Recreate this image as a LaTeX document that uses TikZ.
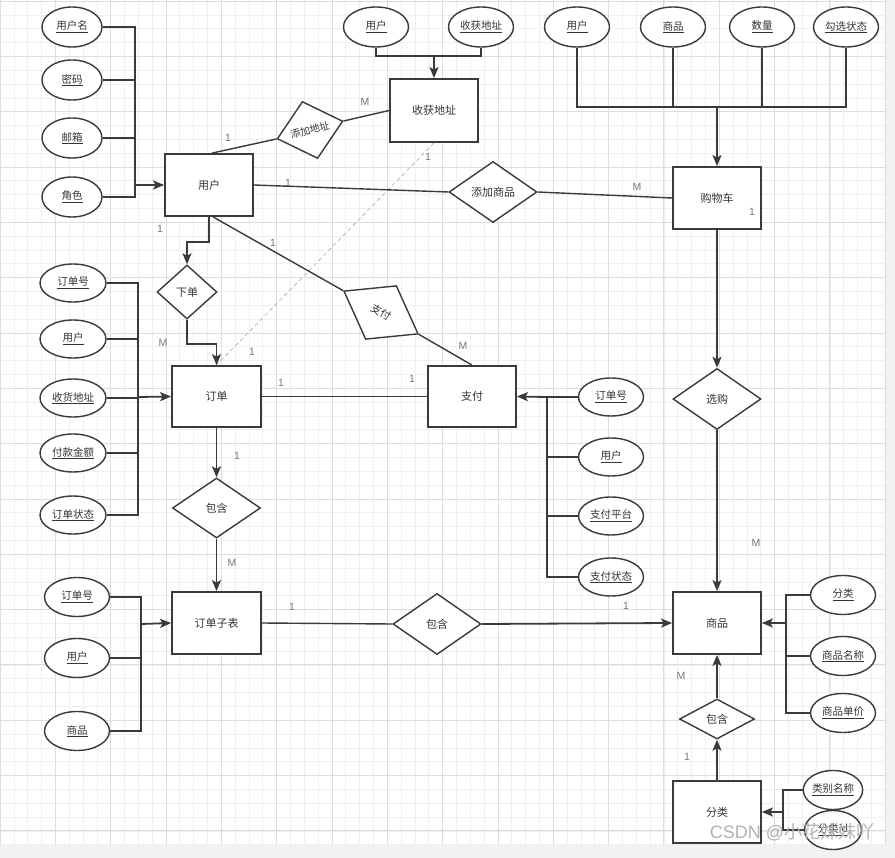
\documentclass[tikz,border=0pt]{standalone}
\usepackage{fontspec}
\setmainfont{Noto Sans CJK SC}
\newfontfamily\lblfont{Liberation Sans}
\usetikzlibrary{shapes.geometric,arrows.meta}
\definecolor{ln}{HTML}{3A3A3A}
\definecolor{tx}{HTML}{333333}
\definecolor{lb}{HTML}{777777}
\definecolor{gmin}{HTML}{EFEFEF}
\definecolor{gmaj}{HTML}{DDDDDD}
\definecolor{strip}{HTML}{F2F2F2}
\tikzset{
  ent/.style={draw=ln,line width=1.8pt,fill=white,minimum width=88pt,minimum height=62pt,inner sep=0pt,text=tx,font=\fontsize{11}{13}\selectfont},
  attr/.style={ellipse,draw=ln,line width=1.4pt,fill=white,minimum width=65pt,minimum height=39pt,inner sep=0pt,text=tx,font=\fontsize{10.5}{12}\selectfont},
  rel/.style={diamond,draw=ln,line width=1.4pt,fill=white,minimum width=88pt,minimum height=61pt,inner sep=0pt,text=tx,font=\fontsize{11}{13}\selectfont},
  conn/.style={draw=ln,line width=1.4pt},
  arr/.style={draw=ln,line width=1.8pt,-{Stealth[length=11pt,width=9pt,inset=2.5pt]}},
  card/.style={text=lb,font=\lblfont\fontsize{10.5}{12}\selectfont,inner sep=0pt},
  gminor/.style={draw=gmin,line width=0.6pt},
  gmajor/.style={draw=gmaj,line width=0.7pt}
}
\begin{document}
\begin{tikzpicture}[x=1pt,y=-1pt]
\useasboundingbox (0,0) rectangle (895,858);
\fill[white] (0,0) rectangle (895,858);
\fill[strip] (885,0) rectangle (895,858);
\fill[strip] (0,845) rectangle (885,858);
% grid
\foreach \i in {0,...,64} \draw[gminor] (\i*13.83,0) -- (\i*13.83,845);
\foreach \j in {0,...,61} \draw[gminor] (0,1+\j*13.83) -- (885,1+\j*13.83);
\foreach \i in {0,...,16} \draw[gmajor] (\i*55.32,0) -- (\i*55.32,845);
\foreach \j in {0,...,15} \draw[gmajor] (0,1+\j*55.32) -- (885,1+\j*55.32);

% ---------- nodes ----------
% user
\node[attr,minimum width=60pt,minimum height=40pt] (ua1) at (72,27) {\underline{用户名}};
\node[attr,minimum width=60pt,minimum height=40pt] (ua2) at (72,80) {\underline{密码}};
\node[attr,minimum width=60pt,minimum height=40pt] (ua3) at (72,138) {\underline{邮箱}};
\node[attr,minimum width=60pt,minimum height=40pt] (ua4) at (72,197) {\underline{角色}};
\node[ent] (user) at (209,185) {用户};
\node[rel,rotate=15,minimum width=68pt,minimum height=59pt,font=\fontsize{10}{12}\selectfont] (addaddr) at (310,130) {添加地址};
\node[ent,minimum height=63pt] (addr) at (434,110.5) {收获地址};
\node[attr,minimum height=40pt] (aa1) at (376,27) {\underline{用户}};
\node[attr,minimum height=40pt] (aa2) at (481,27) {\underline{收获地址}};
\node[rel] (addgoods) at (493,192) {添加商品};
\node[ent] (cart) at (717,198) {购物车};
\node[attr,minimum height=40pt] (ca1) at (577,27) {\underline{用户}};
\node[attr,minimum height=40pt] (ca2) at (673,27) {\underline{商品}};
\node[attr,minimum height=40pt] (ca3) at (762,27) {\underline{数量}};
\node[attr,minimum height=40pt] (ca4) at (846,27) {\underline{勾选状态}};
\node[rel] (choose) at (717,399) {选购};
\node[ent] (goods) at (717,623) {商品};
\node[attr] (ga1) at (843,595) {\underline{分类}};
\node[attr] (ga2) at (843,656) {\underline{商品名称}};
\node[attr] (ga3) at (843,713) {\underline{商品单价}};
\node[rel,minimum width=75pt,minimum height=40pt] (contain3) at (717,719) {包含};
\node[ent] (cat) at (717,812) {分类};
\node[attr,minimum width=57pt] (cta1) at (833,790) {\underline{类别名称}};
\node[attr,minimum width=57pt] (cta2) at (833,830) {\underline{分类id}};
% order
\node[rel,minimum width=60pt,minimum height=54pt] (xiadan) at (187,292) {下单};
\node[ent,minimum width=89pt,minimum height=61pt] (order) at (216.5,396.5) {订单};
\node[attr,minimum width=66pt,minimum height=38pt] (oa1) at (73,283) {\underline{订单号}};
\node[attr,minimum width=66pt,minimum height=38pt] (oa2) at (73,339) {\underline{用户}};
\node[attr,minimum width=66pt,minimum height=38pt] (oa3) at (73,398) {\underline{收货地址}};
\node[attr,minimum width=66pt,minimum height=38pt] (oa4) at (73,453) {\underline{付款金额}};
\node[attr,minimum width=66pt,minimum height=38pt] (oa5) at (73,515) {\underline{订单状态}};
\node[rel,rotate=-30,minimum width=86pt,minimum height=62pt,font=\fontsize{10.5}{12}\selectfont] (pay) at (381,312.5) {支付};
\node[ent,minimum width=88pt,minimum height=61pt] (payment) at (472,396.5) {支付};
\node[attr,minimum height=38pt] (pa1) at (611,397) {\underline{订单号}};
\node[attr,minimum height=38pt] (pa2) at (611,457) {\underline{用户}};
\node[attr,minimum height=38pt] (pa3) at (611,516) {\underline{支付平台}};
\node[attr,minimum height=38pt] (pa4) at (611,577) {\underline{支付状态}};
\node[rel,minimum height=60pt] (contain1) at (216.5,508) {包含};
\node[ent,minimum width=89pt] (sub) at (216.5,623) {订单子表};
\node[attr] (sa1) at (77,597) {\underline{订单号}};
\node[attr] (sa2) at (77,658) {\underline{用户}};
\node[attr] (sa3) at (77,731) {\underline{商品}};
\node[rel] (contain2) at (437,624) {包含};

% ---------- bus coordinates ----------
\coordinate (ub) at (135,185);
\coordinate (ab) at (434,56);
\coordinate (cb) at (717,107);
\coordinate (gb) at (786,623);
\coordinate (kb) at (783,812);
\coordinate (ob) at (138,397);
\coordinate (pb) at (547,397);
\coordinate (sb) at (141,624);

% ---------- connectors ----------
% user attributes
\draw[conn] (ua1.east) -| (ua4.east -| ub) -- (ua4.east);
\draw[conn] (ua2.east) -- (ua2.east -| ub);
\draw[conn] (ua3.east) -- (ua3.east -| ub);
\draw[arr] (ub) -- (user.west);
% address
\draw[conn] ([xshift=3pt]user.north) -- (addaddr.west);
\draw[conn] (addaddr.east) -- (addr.west);
\draw[conn] (aa1.south) |- (ab) -| (aa2.south);
\draw[arr] (ab) -- (addr.north);
\draw[draw=gray!70,line width=0.6pt,dash pattern=on 4pt off 3pt] (addr.south) -- (order.north);
% cart
\draw[conn] (user.east) -- (addgoods.west);
\draw[conn] (addgoods.east) -- (cart.west);
\draw[conn] (ca1.south) |- (ca4.south |- cb) -- (ca4.south);
\draw[conn] (ca2.south) -- (ca2.south |- cb);
\draw[conn] (ca3.south) -- (ca3.south |- cb);
\draw[arr] (cb) -- (cart.north);
\draw[arr] (cart.south) -- (choose.north);
\draw[arr] (choose.south) -- (goods.north);
% goods attributes
\draw[conn] (ga1.west) -| (ga3.west -| gb) -- (ga3.west);
\draw[conn] (ga2.west) -- (ga2.west -| gb);
\draw[arr] (gb) -- (goods.east);
% category
\draw[arr] (contain3.north) -- (goods.south);
\draw[arr] (cat.north) -- (contain3.south);
\draw[conn] (cta1.west) -| (cta2.west -| kb) -- (cta2.west);
\draw[arr] (kb) -- (cat.east);
% order
\draw[arr] (user.south) -- ++(0,25) -| (xiadan.north);
\draw[arr] (xiadan.south) -- ++(0,24) -| (order.north);
\draw[conn] (oa1.east) -| (oa5.east -| ob) -- (oa5.east);
\draw[conn] (oa2.east) -- (oa2.east -| ob);
\draw[conn] (oa3.east) -- (oa3.east -| ob);
\draw[conn] (oa4.east) -- (oa4.east -| ob);
\draw[arr] (ob) -- (order.west);
% payment
\draw[conn] ([xshift=4pt]user.south) -- (pay.west);
\draw[conn] (pay.east) -- (payment.north);
\draw[conn] (order.east) -- (payment.west);
\draw[conn] (pa1.west) -- (pb) |- (pa4.west);
\draw[conn] (pa2.west) -- (pa2.west -| pb);
\draw[conn] (pa3.west) -- (pa3.west -| pb);
\draw[arr] (pb) -- (payment.east);
% order items
\draw[arr] (order.south) -- (contain1.north);
\draw[arr] (contain1.south) -- (sub.north);
\draw[conn] (sa1.east) -| (sa3.east -| sb) -- (sa3.east);
\draw[conn] (sa2.east) -- (sa2.east -| sb);
\draw[arr] (sb) -- (sub.west);
\draw[conn] (sub.east) -- (contain2.west);
\draw[arr] (contain2.east) -- (goods.west);

% ---------- cardinality labels ----------
\node[card] (l1) at (228,138) {1};
\node[card] (l2) at (365,102) {M};
\node[card] (l3) at (428,157) {1};
\node[card] (l4) at (288,183) {1};
\node[card] (l5) at (637,187) {M};
\node[card] (l6) at (752,212) {1};
\node[card] (l7) at (160,229) {1};
\node[card] (l8) at (273,243) {1};
\node[card] (l9) at (163,343) {M};
\node[card] (l10) at (252,352) {1};
\node[card] (l11) at (463,346) {M};
\node[card] (l12) at (281,383) {1};
\node[card] (l13) at (412,379) {1};
\node[card] (l14) at (237,456) {1};
\node[card] (l15) at (232,563) {M};
\node[card] (l16) at (292,607) {1};
\node[card] (l17) at (626,606) {1};
\node[card] (l18) at (756,543) {M};
\node[card] (l19) at (681,676) {M};
\node[card] (l20) at (687,757) {1};

% watermark
\node[text=gray!60,font=\lblfont\fontsize{18}{20}\selectfont,inner sep=0pt] (wm) at (792,832) {CSDN @{\rmfamily 小花妹妹吖}};
\end{tikzpicture}
\end{document}
